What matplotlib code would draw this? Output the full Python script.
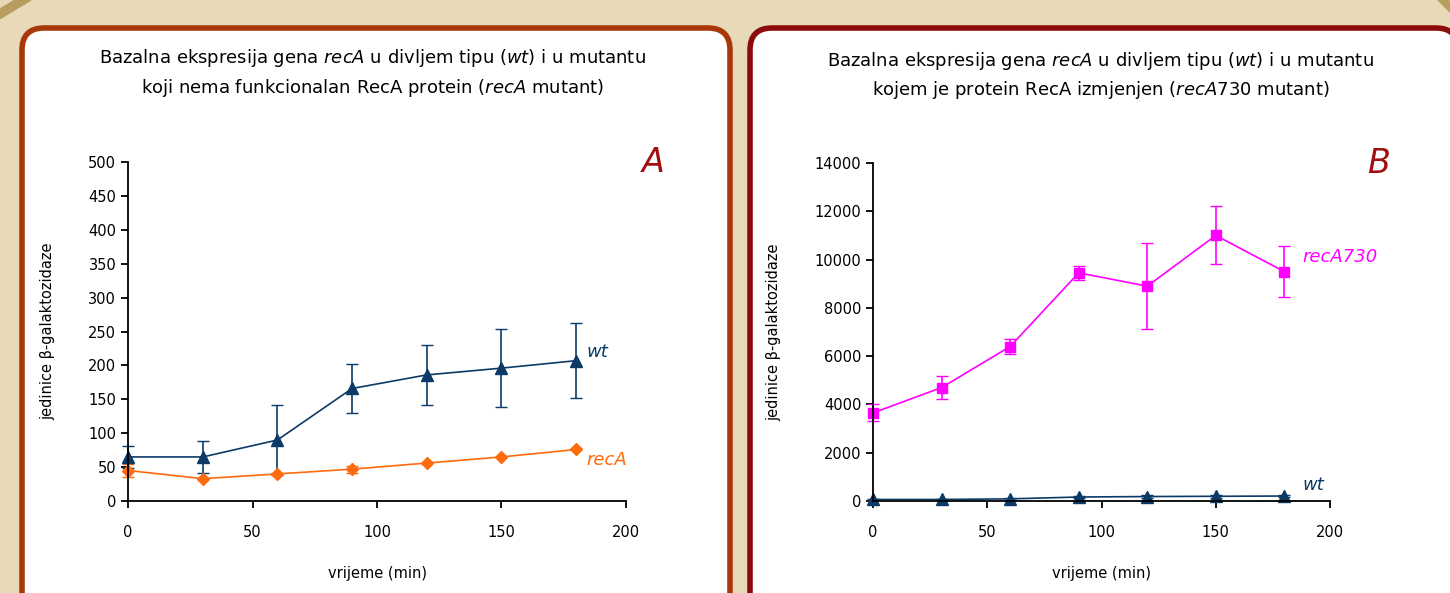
import matplotlib.pyplot as plt
from matplotlib.patches import FancyBboxPatch
from matplotlib.lines import Line2D

# time points (min)
time = [0, 30, 60, 90, 120, 150, 180]

# panel A
wt = [65, 65, 90, 166, 186, 196, 207]
wt_err = [16, 23, 52, 36, 44, 58, 55]
recA = [45, 33, 40, 47, 56, 65, 76]
recA_err = [9, 0, 0, 5, 0, 0, 0]

# panel B
recA730 = [3650, 4700, 6400, 9450, 8900, 11000, 9500]
recA730_err = [350, 480, 300, 300, 1780, 1200, 1050]

navy = '#0B3A66'
orange = '#FF6A0D'
magenta = '#FF00FF'

plt.rcParams['font.family'] = ['DejaVu Sans']

fig = plt.figure(figsize=(14.5, 5.93), dpi=100)
fig.patch.set_facecolor('#E8DAB8')

# decorative corner strokes
fig.add_artist(Line2D([-2, 28], [578, 596], transform=None, color='#B89E5E', lw=7, zorder=-2))
fig.add_artist(Line2D([1440, 1452], [596, 584], transform=None, color='#B89E5E', lw=6, zorder=-2))

# panel frames
for x0, w, col in [(22, 708, '#A8380A'), (750, 708, '#8B0A0A')]:
    box = FancyBboxPatch((x0, -40), w, 593 - 28 + 40, boxstyle='round,pad=0,rounding_size=22',
                         transform=None, facecolor='white', edgecolor=col, lw=4, zorder=-1)
    fig.add_artist(box)


def style_axes(ax, ymax, ystep):
    ax.set_xlim(0, 200)
    ax.set_ylim(0, ymax)
    ax.set_xticks(range(0, 201, 50))
    ax.set_yticks(range(0, ymax + 1, ystep))
    for s in ['top', 'right']:
        ax.spines[s].set_visible(False)
    for s in ['left', 'bottom']:
        ax.spines[s].set_linewidth(1.3)
    ax.tick_params(direction='out', length=5, width=1.3, labelsize=10.5)
    ax.tick_params(axis='x', pad=12)
    ax.set_xlabel('vrijeme (min)', fontsize=10.5, labelpad=19)
    ax.set_ylabel('jedinice β-galaktozidaze', fontsize=10.5, labelpad=24)
    ax.set_facecolor('none')


# ---- panel A
axA = fig.add_axes([0.0883, 0.1551, 0.3434, 0.5717])
style_axes(axA, 500, 50)
axA.errorbar(time, recA, yerr=recA_err, color=orange, marker='D', ms=6, lw=1.2,
             capsize=4, elinewidth=1.2, clip_on=False)
axA.errorbar(time, wt, yerr=wt_err, color=navy, marker='^', ms=8, lw=1.2,
             capsize=4, elinewidth=1.2, clip_on=False)
axA.text(184, wt[-1] + 6, 'wt', color=navy, fontsize=13, style='italic')
axA.text(184, recA[-1] - 23, 'recA', color=orange, fontsize=13, style='italic')
axA.text(211, 500, 'A', color='#A01010', fontsize=24, style='italic', ha='center', va='center')
fig.text(0.257, 0.903, 'Bazalna ekspresija gena $\\it{recA}$ u divljem tipu ($\\it{wt}$) i u mutantu',
         ha='center', va='center', fontsize=13)
fig.text(0.257, 0.852, 'koji nema funkcionalan RecA protein ($\\it{recA}$ mutant)',
         ha='center', va='center', fontsize=13)

# ---- panel B
axB = fig.add_axes([0.6021, 0.1551, 0.3152, 0.5700])
style_axes(axB, 14000, 2000)
axB.errorbar(time, recA730, yerr=recA730_err, color=magenta, marker='s', ms=7, lw=1.2,
             capsize=4, elinewidth=1.2, clip_on=False)
axB.errorbar(time, wt, yerr=wt_err, color=navy, marker='^', ms=8, lw=1.2,
             capsize=4, elinewidth=1.2, clip_on=False)
axB.text(188, 9900, 'recA730', color=magenta, fontsize=13, style='italic')
axB.text(188, 450, 'wt', color=navy, fontsize=13, style='italic')
axB.text(221, 14000, 'B', color='#A01010', fontsize=24, style='italic', ha='center', va='center')
fig.text(0.759, 0.897, 'Bazalna ekspresija gena $\\it{recA}$ u divljem tipu ($\\it{wt}$) i u mutantu',
         ha='center', va='center', fontsize=13)
fig.text(0.759, 0.848, 'kojem je protein RecA izmjenjen ($\\it{recA730}$ mutant)',
         ha='center', va='center', fontsize=13)

fig.savefig('out.png', dpi=100, facecolor=fig.get_facecolor())
